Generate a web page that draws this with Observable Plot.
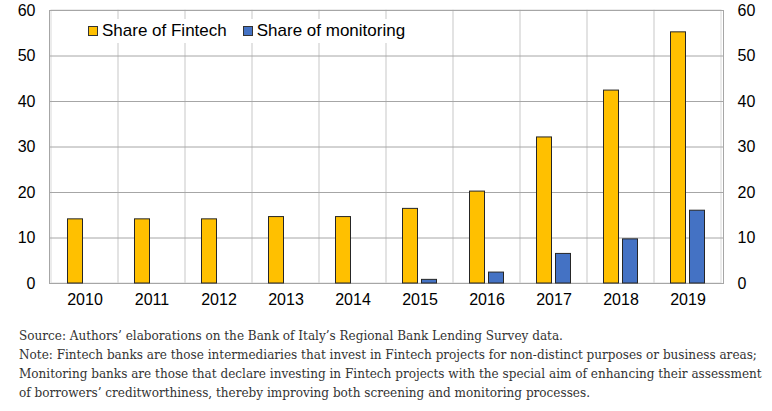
<!DOCTYPE html>
<html>
<head>
<meta charset="utf-8">
<script src="https://cdn.jsdelivr.net/npm/d3@7"></script>
<script src="https://cdn.jsdelivr.net/npm/@observablehq/plot@0.6"></script>
<style>
  body { margin: 0; background: #fff; }
  #wrap { position: relative; width: 772px; }
  #legend { position: absolute; left: 84px; top: 19px; background: #fff; padding: 2px 4px;
    font-family: "Liberation Sans", Arial, sans-serif; font-size: 17px; color: #000; display: flex; align-items: center; white-space: nowrap; }
  #legend .sw { display: inline-block; width: 8px; height: 8px; border: 1px solid #333; margin-right: 4px; }
  #legend .item { display: flex; align-items: center; margin-right: 16px; }
  #caption { font-family: "DejaVu Serif Condensed", "DejaVu Serif", serif; font-stretch: condensed; font-size: 13.4px; color: #333; line-height: 19px; padding-left: 19px; margin-top: 8px; white-space: nowrap; }
</style>
</head>
<body>
<div id="wrap">
  <div id="chart"></div>
  <div id="legend"></div>
  <div id="caption"></div>
</div>
<script>
const years = ["2010","2011","2012","2013","2014","2015","2016","2017","2018","2019"];
const fintech = [14.1, 14.1, 14.1, 14.6, 14.6, 16.4, 20.2, 32.1, 42.4, 55.2];
const monitoring = [null, null, null, null, null, 0.8, 2.4, 6.5, 9.7, 16.0];
const yTicks = [0, 10, 20, 30, 40, 50, 60];
const seriesNames = ["Share of Fintech", "Share of monitoring"];
const seriesColors = ["#FFC000", "#4472C4"];
const captionLines = [
  "Source: Authors’ elaborations on the Bank of Italy’s Regional Bank Lending Survey data.",
  "Note: Fintech banks are those intermediaries that invest in Fintech projects for non-distinct purposes or business areas;",
  "Monitoring banks are those that declare investing in Fintech projects with the special aim of enhancing their assessment",
  "of borrowers’ creditworthiness, thereby improving both screening and monitoring processes."
];

const fData = years.map((y, i) => ({year: y, value: fintech[i]}));
const mData = years.map((y, i) => ({year: y, value: monitoring[i]})).filter(d => d.value != null);

const chart = Plot.plot({
  width: 772,
  height: 318,
  marginTop: 10,
  marginBottom: 35,
  marginLeft: 49,
  marginRight: 49,
  style: {fontFamily: "Liberation Sans, Arial, sans-serif", fontSize: "16px", color: "#000", background: "#fff"},
  x: {domain: years, padding: 0, label: null},
  y: {domain: [0, 60], label: null},
  marks: [
    Plot.barY(years, {x: d => d, y1: 0, y2: 60, fill: "none", stroke: "#d9d9d9", strokeWidth: 1}),
    Plot.ruleY(yTicks, {stroke: "#a6a6a6", strokeWidth: 1}),
    Plot.frame({stroke: "#a6a6a6"}),
    Plot.barY(fData, {x: "year", y: "value", fill: seriesColors[0], stroke: "#262626", strokeWidth: 1, insetLeft: 16.5, insetRight: 35.5}),
    Plot.barY(mData, {x: "year", y: "value", fill: seriesColors[1], stroke: "#262626", strokeWidth: 1, insetLeft: 35.5, insetRight: 16.5}),
    Plot.axisY({anchor: "left", ticks: yTicks, tickSize: 0, tickPadding: 14, label: null}),
    Plot.axisY({anchor: "right", ticks: yTicks, tickSize: 0, tickPadding: 14, label: null}),
    Plot.axisX({tickSize: 0, tickPadding: 10, label: null})
  ]
});
document.getElementById("chart").appendChild(chart);

const legend = document.getElementById("legend");
seriesNames.forEach((n, i) => {
  const it = document.createElement("span");
  it.className = "item";
  const sw = document.createElement("span");
  sw.className = "sw";
  sw.style.background = seriesColors[i];
  it.appendChild(sw);
  it.appendChild(document.createTextNode(n));
  legend.appendChild(it);
});

const cap = document.getElementById("caption");
captionLines.forEach(l => { const d = document.createElement("div"); d.textContent = l; cap.appendChild(d); });
</script>
</body>
</html>
